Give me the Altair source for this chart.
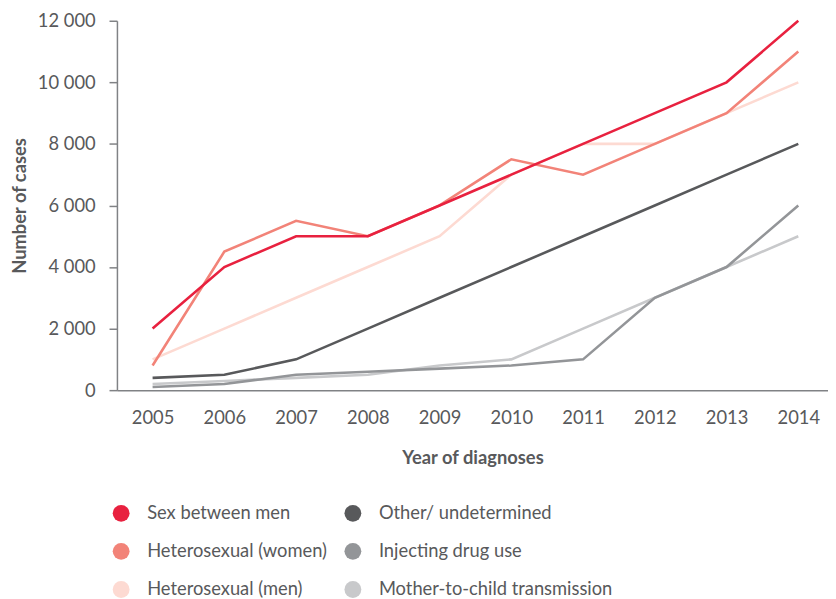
import altair as alt
import pandas as pd

years = list(range(2005, 2015))

# legend order (column-major, 2 columns)
series_names = [
    "Sex between men",
    "Heterosexual (women)",
    "Heterosexual (men)",
    "Other/ undetermined",
    "Injecting drug use",
    "Mother-to-child transmission",
]
series_colors = ["#E8213F", "#F28378", "#FDDAD2", "#58595B", "#939598", "#C8C9CB"]

sex_between_men = [2000, 4000, 5000, 5000, 6000, 7000, 8000, 9000, 10000, 12000]
hetero_women = [800, 4500, 5500, 5000, 6000, 7500, 7000, 8000, 9000, 11000]
hetero_men = [1000, 2000, 3000, 4000, 5000, 7000, 8000, 8000, 9000, 10000]
other_undetermined = [400, 500, 1000, 2000, 3000, 4000, 5000, 6000, 7000, 8000]
injecting_drug_use = [100, 200, 500, 600, 700, 800, 1000, 3000, 4000, 6000]
mother_to_child = [200, 300, 400, 500, 800, 1000, 2000, 3000, 4000, 5000]

y_ticks = [0, 2000, 4000, 6000, 8000, 10000, 12000]

# drawing order: bottom first
draw_order = [
    ("Mother-to-child transmission", mother_to_child),
    ("Injecting drug use", injecting_drug_use),
    ("Other/ undetermined", other_undetermined),
    ("Heterosexual (men)", hetero_men),
    ("Heterosexual (women)", hetero_women),
    ("Sex between men", sex_between_men),
]

rows = []
for name, vals in draw_order:
    for yr, v in zip(years, vals):
        rows.append({"Year": yr, "Cases": v, "Group": name})
df = pd.DataFrame(rows)

FONT = "Lato, Roboto, sans-serif"
TXT = "#58595B"
AX = "#808285"
FS = 18.5

x_enc = alt.X(
    "Year:Q",
    scale=alt.Scale(domain=[2004.503, 2014.414], nice=False, zero=False),
    axis=alt.Axis(
        values=years,
        format="d",
        ticks=False,
        grid=False,
        domainColor=AX,
        domainWidth=1.5,
        labelFont=FONT,
        labelFontSize=FS,
        labelColor=TXT,
        labelPadding=19,
        title="Year of diagnoses",
        titleFont=FONT,
        titleFontSize=FS,
        titleFontWeight="bold",
        titleColor=TXT,
        titlePadding=22,
    ),
)
y_enc = alt.Y(
    "Cases:Q",
    scale=alt.Scale(domain=[0, 12000], nice=False),
    axis=alt.Axis(
        values=y_ticks,
        labelExpr="replace(format(datum.value, ',d'), ',', ' ')",
        grid=False,
        tickSize=8,
        tickColor=AX,
        tickWidth=1.5,
        domainColor=AX,
        domainWidth=1.5,
        labelFont=FONT,
        labelFontSize=FS,
        labelColor=TXT,
        labelPadding=14,
        title="Number of cases",
        titleFont=FONT,
        titleFontSize=FS,
        titleFontWeight="bold",
        titleColor=TXT,
        titlePadding=8,
    ),
)

legend_layer = (
    alt.Chart(df)
    .mark_circle(opacity=0, size=1)
    .encode(
        x=x_enc,
        y=y_enc,
        fill=alt.Fill(
            "Group:N",
            scale=alt.Scale(domain=series_names, range=series_colors),
            legend=alt.Legend(
                title=None,
                orient="none",
                legendX=-5,
                legendY=488,
                columns=2,
                direction="vertical",
                columnPadding=16,
                rowPadding=19.5,
                symbolType="circle",
                symbolSize=289,
                symbolStrokeWidth=0,
                symbolOpacity=1,
                labelFont=FONT,
                labelFontSize=FS,
                labelColor=TXT,
                labelOffset=17,
                labelLimit=400,
            ),
        ),
    )
)

lines = (
    alt.Chart(df)
    .mark_line(strokeWidth=2.6)
    .encode(
        x=x_enc,
        y=y_enc,
        stroke=alt.Stroke(
            "Group:N",
            scale=alt.Scale(domain=series_names, range=series_colors),
            legend=None,
        ),
    )
)

chart = (
    alt.layer(legend_layer, lines)
    .properties(
        width=718,
        height=373,
        autosize=alt.AutoSizeParams(type="none"),
        padding={"left": 110, "top": 10, "right": 0, "bottom": 208},
    )
    .configure_view(stroke=None)
)

chart.save("out.html", embed_options={"renderer": "svg", "actions": False})
